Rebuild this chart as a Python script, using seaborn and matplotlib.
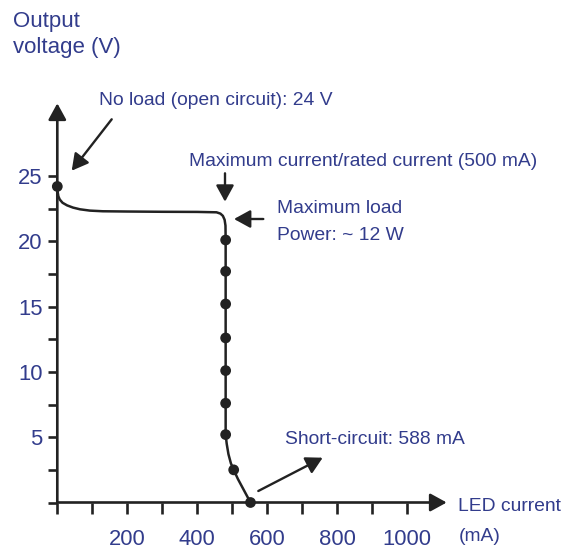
import matplotlib
matplotlib.use("Agg")
import matplotlib.pyplot as plt
import seaborn as sns
import pandas as pd

# ---- data ----
curve_ma = [0, 1, 3, 7, 15, 28, 45, 65, 93, 130, 200, 300, 400, 455, 466, 473, 478,
            480.5, 481, 481, 481, 481, 481, 481, 481, 484, 489, 496, 504, 516, 528, 540, 552]
curve_v = [24.2, 23.8, 23.45, 23.2, 22.95, 22.75, 22.58, 22.45, 22.35, 22.3, 22.28, 22.26,
           22.25, 22.22, 22.12, 21.95, 21.65, 21.2, 20.1, 17.7, 15.2, 12.6, 10.1, 7.6, 5.2,
           4.5, 3.7, 3.0, 2.5, 1.8, 1.2, 0.6, 0.0]
dot_ma = [0, 481, 481, 481, 481, 481, 481, 481, 504, 552]
dot_v = [24.2, 20.1, 17.7, 15.2, 12.6, 10.1, 7.6, 5.2, 2.5, 0.0]

x_ticks = [0, 100, 200, 300, 400, 500, 600, 700, 800, 900, 1000]
x_ticklabels = ["", "", "200", "", "400", "", "600", "", "800", "", "1000"]
y_ticks = [0, 2.5, 5, 7.5, 10, 12.5, 15, 17.5, 20, 22.5, 25]
y_ticklabels = ["", "", "5", "", "10", "", "15", "", "20", "", "25"]

title_lines = ["Output", "voltage (V)"]
xlabel_lines = ["LED current", "(mA)"]
note_noload = "No load (open circuit): 24 V"
note_maxcur = "Maximum current/rated current (500 mA)"
note_maxload = ["Maximum load", "Power: ~ 12 W"]
note_short = "Short-circuit: 588 mA"

# ---- style ----
W, H = 566, 549
BLUE = "#323c8c"
DARK = "#222222"
FAM = ["Liberation Sans", "DejaVu Sans"]

sns.set_theme(style="white")
plt.rcParams["font.family"] = FAM

fig = plt.figure(figsize=(W / 100, H / 100), dpi=100)

def px(x, y):
    return (x / W, 1 - y / H)

# axes placement in pixels
x0, x1 = 57.3, 446.7
yb, yt = 502.5, 103.3
ax = fig.add_axes([x0 / W, 1 - yb / H, (x1 - x0) / W, (yb - yt) / H])
xmax = (x1 - x0) / 0.35
ymax = (yb - yt) / 13.06
ax.set_xlim(0, xmax)
ax.set_ylim(0, ymax)
ax.patch.set_alpha(0)
for s in ax.spines.values():
    s.set_visible(False)

df_curve = pd.DataFrame({"ma": curve_ma, "v": curve_v})
df_dots = pd.DataFrame({"ma": dot_ma, "v": dot_v})
sns.lineplot(data=df_curve, x="ma", y="v", sort=False, estimator=None,
             color=DARK, lw=1.8, ax=ax, zorder=3)
sns.scatterplot(data=df_dots, x="ma", y="v", color=DARK, s=60, edgecolor="none",
                ax=ax, zorder=4, clip_on=False)
ax.set_xlabel("")
ax.set_ylabel("")

# axis lines with arrows
arrow_kw = dict(arrowstyle="-|>,head_length=0.62,head_width=0.34", color=DARK,
                lw=1.9, shrinkA=0, shrinkB=0, mutation_scale=16)
ax.annotate("", xy=(xmax, 0), xytext=(0, 0), arrowprops=arrow_kw, annotation_clip=False)
ax.annotate("", xy=(0, ymax), xytext=(0, 0), arrowprops=arrow_kw, annotation_clip=False)

ax.set_xticks(x_ticks)
ax.set_xticklabels(x_ticklabels)
ax.set_yticks(y_ticks)
ax.set_yticklabels(y_ticklabels)
ax.tick_params(axis="x", direction="out", length=8, width=1.9, color=DARK,
               pad=11, labelsize=15.8, labelcolor=BLUE, bottom=True)
ax.tick_params(axis="y", direction="out", length=6.5, width=1.9, color=DARK,
               pad=4, labelsize=15.8, labelcolor=BLUE, left=True)

# titles / labels
fig.text(*px(13, 27.3), title_lines[0], fontsize=16, color=BLUE, va="baseline")
fig.text(*px(13, 53), title_lines[1], fontsize=16, color=BLUE, va="baseline")
fs = 13.9
fig.text(*px(458.3, 511), xlabel_lines[0], fontsize=fs, color=BLUE, va="baseline")
fig.text(*px(458.3, 541), xlabel_lines[1], fontsize=fs, color=BLUE, va="baseline")

# annotations
fig.text(*px(99.3, 105.3), note_noload, fontsize=fs, color=BLUE, va="baseline")
fig.text(*px(189, 165.9), note_maxcur, fontsize=fs, color=BLUE, va="baseline")
fig.text(*px(276.7, 213.3), note_maxload[0], fontsize=fs, color=BLUE, va="baseline")
fig.text(*px(276.7, 239.9), note_maxload[1], fontsize=fs, color=BLUE, va="baseline")
fig.text(*px(285, 444.3), note_short, fontsize=fs, color=BLUE, va="baseline")

note_kw = dict(arrowstyle="-|>,head_length=0.62,head_width=0.34", color=DARK,
               lw=1.7, shrinkA=0, shrinkB=0, mutation_scale=16)
for (sx, sy), (tx, ty) in [((111.7, 119.3), (71.7, 170.7)),
                           ((225, 173.3), (225, 201.7)),
                           ((263.3, 219), (234, 219)),
                           ((258.3, 491), (322.7, 457.7))]:
    fig.add_artist(matplotlib.patches.FancyArrowPatch(
        px(sx, sy), px(tx, ty), transform=fig.transFigure, **note_kw))

fig.savefig("out.png", dpi=100)
